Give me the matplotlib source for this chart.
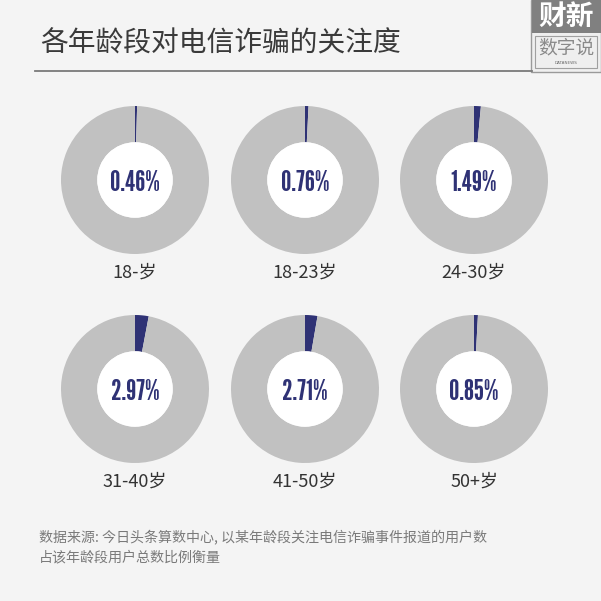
import matplotlib
matplotlib.use("Agg")
import matplotlib.pyplot as plt
from matplotlib.patches import Rectangle, Circle

plt.rcParams['font.family'] = ['Noto Sans CJK SC', 'DejaVu Sans']

title = "各年龄段对电信诈骗的关注度"
age_groups = ["18-岁", "18-23岁", "24-30岁", "31-40岁", "41-50岁", "50+岁"]
attention_pct = [0.46, 0.76, 1.49, 2.97, 2.71, 0.85]
footnote = ["数据来源: 今日头条算数中心, 以某年龄段关注电信诈骗事件报道的用户数",
            "占该年龄段用户总数比例衡量"]

W = H = 601
BG = "#f4f4f4"
NAVY = "#2f3275"
GREY = "#c1c1c1"

fig = plt.figure(figsize=(W / 100, H / 100), dpi=100, facecolor=BG)

def fx(px):
    return px / W

def fy(py):
    return 1 - py / H

# title
fig.text(fx(40), fy(43), title, fontsize=20, color="#3a3a3a", va="center", ha="left")
fig.add_artist(plt.Line2D([fx(35), fx(532)], [fy(71), fy(71)], color="#7a7a7a", lw=1.3,
                          transform=fig.transFigure))

# logo
fig.add_artist(Rectangle((fx(531), fy(72)), fx(70), 72 / H, transform=fig.transFigure,
                         facecolor="#efefef", edgecolor="#9a9a9a", lw=1))
fig.add_artist(Rectangle((fx(532), fy(33)), fx(69), 33 / H, transform=fig.transFigure,
                         facecolor="#808080", edgecolor="none"))
fig.add_artist(Rectangle((fx(535), fy(68)), fx(62), 32 / H, transform=fig.transFigure,
                         facecolor="none", edgecolor="#a0a0a0", lw=0.8))
fig.text(fx(566), fy(17), "财新", fontsize=20, color="white", fontweight="bold",
         ha="center", va="center")
fig.text(fx(566), fy(48), "数字说", fontsize=13.5, color="#8a8a8a", ha="center", va="center")
fig.text(fx(566), fy(63), "DATANEWS", fontsize=3, color="#666666", ha="center", va="center",
         family=["DejaVu Sans"])

# donuts
cols = [135, 305, 474]
rows = [180, 389]
R = 74
for i, (lab, p) in enumerate(zip(age_groups, attention_pct)):
    cx = cols[i % 3]
    cy = rows[i // 3]
    ax = fig.add_axes([fx(cx - R), fy(cy + R), 2 * R / W, 2 * R / H])
    ax.set_facecolor("none")
    ax.pie([p, 100 - p], colors=[NAVY, GREY], startangle=90, counterclock=False,
           radius=1, wedgeprops=dict(width=0.49, edgecolor="none", linewidth=0))
    ax.add_patch(Circle((0, 0), 0.51, facecolor="white", edgecolor="none", zorder=5))
    ax.text(0, 0, f"{p:.2f}%", ha="center", va="center_baseline", fontsize=21, color=NAVY,
            zorder=6, family=["League Gothic", "DejaVu Sans"])
    ax.set_xlim(-1, 1)
    ax.set_ylim(-1, 1)
    ax.set_aspect("equal")
    ax.axis("off")
    fig.text(fx(cx), fy(cy + 93), lab, fontsize=13, color="#333333",
             ha="center", va="center")

# footnote
fig.text(fx(39), fy(537), footnote[0], fontsize=10.1, color="#7a7a7a", ha="left", va="center")
fig.text(fx(39), fy(557), footnote[1], fontsize=10.1, color="#7a7a7a", ha="left", va="center")

fig.savefig("out.png", dpi=100, facecolor=BG)
